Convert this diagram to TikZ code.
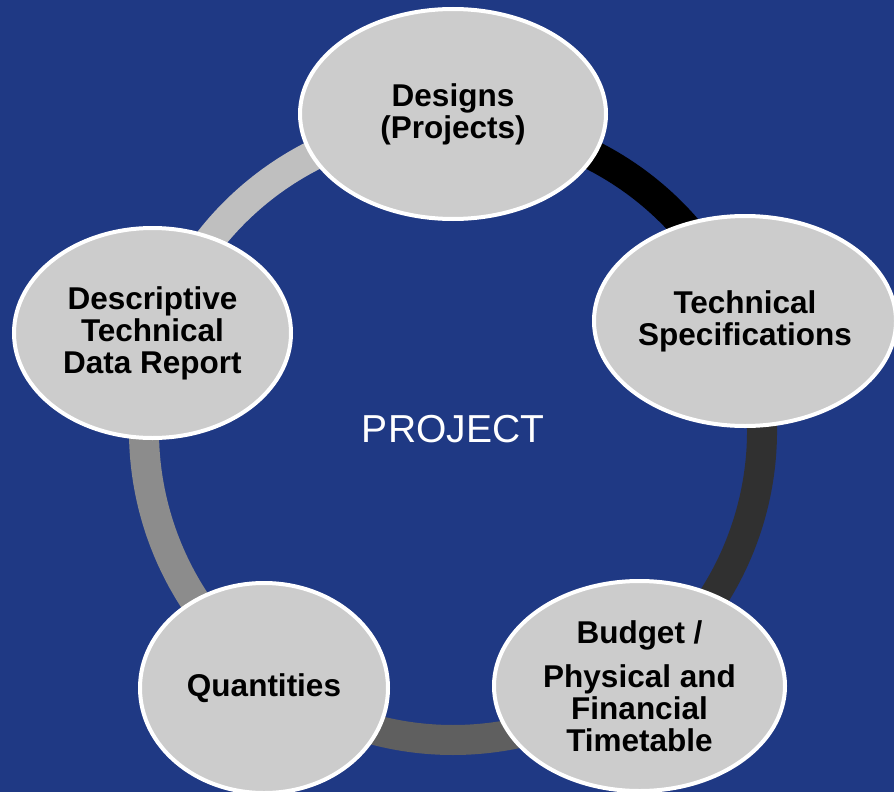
\documentclass[tikz,border=0pt]{standalone}
\usepackage{fontspec}
\setmainfont{Liberation Sans}
\usetikzlibrary{shapes.geometric}
\definecolor{bgblue}{HTML}{1F3984}
\definecolor{bubblegray}{HTML}{CCCCCC}
\definecolor{segA}{HTML}{000000}
\definecolor{segB}{HTML}{303030}
\definecolor{segC}{HTML}{5F5F5F}
\definecolor{segD}{HTML}{8C8C8C}
\definecolor{segE}{HTML}{BFBFBF}
\begin{document}
\begin{tikzpicture}[x=1pt, y=1pt,
    bubble/.style={ellipse, draw=white, line width=4pt, fill=bubblegray,
        inner sep=0pt, minimum height=210pt, align=center,
        font=\fontsize{31.5}{32}\selectfont\bfseries},
    ringseg/.style={line width=30pt}]
            \fill[bgblue] (0, 0) rectangle (894, -792);
            \useasboundingbox (0, 0) rectangle (894, -792);
            \coordinate (ring) at (453, -431);

       %     %%ring
            \draw[ringseg, segA] (ring) ++(90:309) arc[start angle=90, end angle=20, radius=309];
            \draw[ringseg, segB] (ring) ++(20:309) arc[start angle=20, end angle=-54, radius=309];
            \draw[ringseg, segC] (ring) ++(-54:309) arc[start angle=-54, end angle=-126, radius=309];
            \draw[ringseg, segD] (ring) ++(-126:309) arc[start angle=-126, end angle=-198, radius=309];
            \draw[ringseg, segE] (ring) ++(162:309) arc[start angle=162, end angle=90, radius=309];

       %     %%bubbles
            \node[bubble, minimum width=306pt] (designs) at (453, -114) {Designs\\(Projects)};
            \node[bubble, minimum width=291pt] (techspec) at (745, -321) {Technical\\Specifications};
            \node[bubble, minimum width=291pt] (budget) at (639.5, -686) {Budget /\\[12pt]Physical and\\Financial\\Timetable};
            \node[bubble, minimum width=248pt] (quantities) at (264, -688) {Quantities};
            \node[bubble, minimum width=277pt] (descriptive) at (152.5, -333) {Descriptive\\Technical\\Data Report};

            %centre
            \node[text=white, font=\fontsize{39}{44}\selectfont] (project) at (453, -429) {PROJECT};
        \end{tikzpicture}
\end{document}
